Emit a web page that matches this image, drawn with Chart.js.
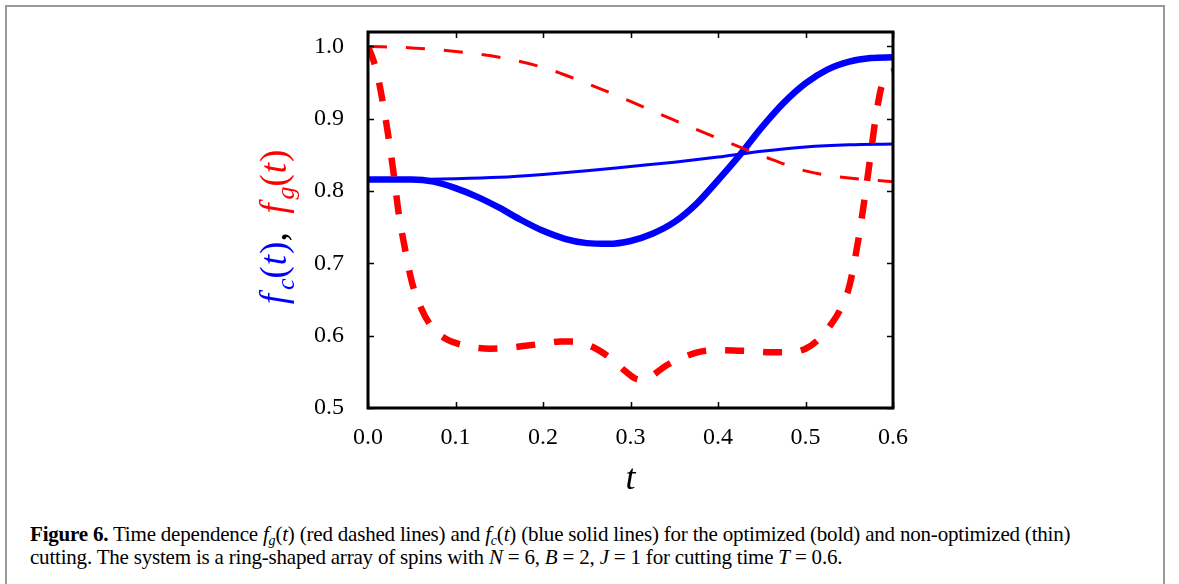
<!DOCTYPE html>
<html>
<head>
<meta charset="utf-8">
<script src="https://cdn.jsdelivr.net/npm/chart.js@4.4.1/dist/chart.umd.min.js"></script>
<style>
  body { margin: 0; background: #fff; }
  #frame { position: absolute; left: 5px; top: 5px; width: 1160px; height: 620px; border: 2px solid #999; box-sizing: border-box; }
  #chart { position: absolute; left: 0; top: 0; }
  #caption { position: absolute; left: 30px; top: 523px; font-family: "Liberation Serif", serif; font-size: 21px; line-height: 23px; color: #000; white-space: nowrap; letter-spacing: -0.2px; }
  #caption sub { font-size: 14px; line-height: 0; vertical-align: -4px; font-style: italic; }
</style>
</head>
<body>
<div id="frame"></div>
<canvas id="chart" width="1179" height="510"></canvas>
<div id="caption"><b>Figure 6.</b> Time dependence <i>f</i><sub>g</sub>(<i>t</i>) (red dashed lines) and <i>f</i><sub>c</sub>(<i>t</i>) (blue solid lines) for the optimized (bold) and non-optimized (thin)<br>cutting. The system is a ring-shaped array of spins with <i>N</i> = 6, <i>B</i> = 2, <i>J</i> = 1 for cutting time <i>T</i> = 0.6.</div>
<script>
// axis ticks
const xTicks = [0.0, 0.1, 0.2, 0.3, 0.4, 0.5, 0.6];
const yTicks = [0.5, 0.6, 0.7, 0.8, 0.9, 1.0];

// non-optimized (thin) curves
const tThin = [0, 0.05, 0.1, 0.15, 0.2, 0.25, 0.3, 0.35, 0.4, 0.45, 0.5, 0.55, 0.6];
const fgThin = [1.0, 0.998, 0.993, 0.985, 0.971, 0.949, 0.924, 0.898, 0.873, 0.849, 0.828, 0.818, 0.813];
const fcThin = [0.816, 0.816, 0.817, 0.819, 0.823, 0.828, 0.834, 0.840, 0.847, 0.855, 0.861, 0.864, 0.865];

// optimized (bold) f_c
const tFcBold = [0, 0.025, 0.05, 0.075, 0.1, 0.125, 0.15, 0.175, 0.2, 0.225, 0.25, 0.275, 0.3,
                 0.325, 0.35, 0.375, 0.4, 0.425, 0.45, 0.475, 0.5, 0.525, 0.55, 0.575, 0.6];
const fcBold = [0.816, 0.816, 0.816, 0.813, 0.804, 0.792, 0.777, 0.760, 0.745, 0.734, 0.728, 0.727, 0.731,
                0.741, 0.757, 0.782, 0.815, 0.850, 0.888, 0.922, 0.949, 0.968, 0.979, 0.984, 0.985];

// optimized (bold) f_g
const tFgBold = [0, 0.005, 0.01, 0.016, 0.023, 0.029, 0.035, 0.042, 0.05, 0.06, 0.07, 0.08, 0.09, 0.1,
                 0.12, 0.14, 0.16, 0.18, 0.2, 0.22, 0.235, 0.25, 0.265, 0.28, 0.295, 0.305, 0.315, 0.325,
                 0.34, 0.36, 0.38, 0.4, 0.43, 0.46, 0.48, 0.5, 0.515, 0.53, 0.54, 0.55, 0.56, 0.567,
                 0.574, 0.58, 0.587, 0.594, 0.6];
const fgBold = [1.0, 0.985, 0.965, 0.929, 0.878, 0.827, 0.770, 0.722, 0.675, 0.640, 0.617, 0.603, 0.595, 0.590,
                0.584, 0.582, 0.583, 0.586, 0.589, 0.592, 0.592, 0.588, 0.579, 0.566, 0.550, 0.541, 0.539, 0.545,
                0.558, 0.570, 0.578, 0.580, 0.579, 0.577, 0.577, 0.582, 0.595, 0.617, 0.637, 0.668, 0.730, 0.785,
                0.846, 0.900, 0.945, 0.962, 0.966];

const pts = (ts, vs) => ts.map((t, i) => ({ x: t, y: vs[i] }));

const frameAndLabels = {
    id: 'frameAndLabels',
    afterDatasetsDraw(chart) {
        const { ctx, chartArea: a, scales: { x, y } } = chart;
        ctx.save();
        // inward ticks on all four sides
        ctx.strokeStyle = '#000';
        ctx.lineWidth = 1.5;
        ctx.beginPath();
        xTicks.forEach(v => {
            const px = Math.round(x.getPixelForValue(v)) + 0.5;
            ctx.moveTo(px, a.bottom); ctx.lineTo(px, a.bottom - 6);
            ctx.moveTo(px, a.top); ctx.lineTo(px, a.top + 6);
        });
        yTicks.forEach(v => {
            const py = Math.round(y.getPixelForValue(v)) + 0.5;
            ctx.moveTo(a.left, py); ctx.lineTo(a.left + 6, py);
            ctx.moveTo(a.right, py); ctx.lineTo(a.right - 6, py);
        });
        ctx.stroke();
        ctx.lineWidth = 3;
        ctx.strokeRect(a.left, a.top, a.right - a.left, a.bottom - a.top);

        // x title
        ctx.fillStyle = '#000';
        ctx.font = 'italic 36px "Liberation Serif"';
        ctx.textAlign = 'center';
        ctx.textBaseline = 'middle';
        ctx.fillText('t', (a.left + a.right) / 2, 480);

        // y title: f_c(t), f_g(t)
        const big = '37px "Liberation Serif"', bigI = 'italic 37px "Liberation Serif"', subI = 'italic 26px "Liberation Serif"';
        const parts = [
            ['f', bigI, '#0000ff', 0], ['c', subI, '#0000ff', 8], ['(', big, '#0000ff', 0], ['t', bigI, '#0000ff', 0], [')', big, '#0000ff', 0],
            [',  ', big, '#000', 0],
            ['f', bigI, '#ff0000', 0], ['g', subI, '#ff0000', 8], ['(', big, '#ff0000', 0], ['t', bigI, '#ff0000', 0], [')', big, '#ff0000', 0]
        ];
        ctx.textAlign = 'left';
        ctx.textBaseline = 'alphabetic';
        const gap = p => (p[0] === 'f' ? 4 : (p[0] === '(' || p[0] === 't' ? 1 : 0));
        let total = 0;
        parts.forEach(p => { ctx.font = p[1]; total += ctx.measureText(p[0]).width + gap(p); });
        ctx.translate(286, 227);
        ctx.rotate(-Math.PI / 2);
        let u = -total / 2;
        parts.forEach(p => {
            ctx.font = p[1];
            ctx.fillStyle = p[2];
            ctx.fillText(p[0], u, p[3]);
            u += ctx.measureText(p[0]).width + gap(p);
        });
        ctx.restore();
    }
};

new Chart(document.getElementById('chart'), {
    type: 'line',
    data: {
        datasets: [
            { data: pts(tThin, fgThin), borderColor: '#ff0000', borderWidth: 3, borderDash: [19, 19] },
            { data: pts(tFgBold, fgBold), borderColor: '#ff0000', borderWidth: 6.5, borderDash: [19, 19] },
            { data: pts(tThin, fcThin), borderColor: '#0000ff', borderWidth: 3 },
            { data: pts(tFcBold, fcBold), borderColor: '#0000ff', borderWidth: 6.5 }
        ]
    },
    options: {
        responsive: false,
        animation: false,
        devicePixelRatio: 1,
        layout: { padding: { left: 0, right: 286, top: 32, bottom: 0 } },
        elements: {
            point: { radius: 0 },
            line: { cubicInterpolationMode: 'monotone', fill: false, borderCapStyle: 'butt' }
        },
        plugins: { legend: { display: false }, tooltip: { enabled: false } },
        scales: {
            x: {
                type: 'linear', min: 0, max: 0.6,
                grid: { display: false }, border: { display: false },
                afterBuildTicks: s => { s.ticks = xTicks.map(v => ({ value: v })); },
                afterFit: s => { s.height = 102; },
                ticks: { color: '#000', padding: 7, maxRotation: 0, font: { family: 'Liberation Serif', size: 24 }, callback: v => v.toFixed(1) }
            },
            y: {
                type: 'linear', min: 0.5, max: 1.02,
                grid: { display: false }, border: { display: false },
                afterBuildTicks: s => { s.ticks = yTicks.map(v => ({ value: v })); },
                afterFit: s => { s.width = 368; },
                ticks: { color: '#000', padding: 16, font: { family: 'Liberation Serif', size: 24 }, callback: v => v.toFixed(1) }
            }
        }
    },
    plugins: [frameAndLabels]
});
</script>
</body>
</html>
